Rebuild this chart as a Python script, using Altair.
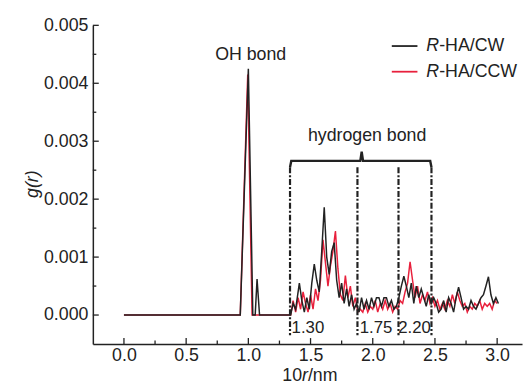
import altair as alt
import pandas as pd

# ---- data ----
cw_x = [0.00, 0.935, 1.00, 1.036, 1.055, 1.07, 1.09, 1.34, 1.36, 1.38, 1.41, 1.43, 1.45, 1.47, 1.49,
        1.51, 1.53, 1.55, 1.57, 1.59, 1.61, 1.63, 1.65, 1.67, 1.69, 1.71, 1.73, 1.75, 1.77, 1.79,
        1.81, 1.83, 1.85, 1.87, 1.89, 1.91, 1.93, 1.95, 1.97, 1.99, 2.01, 2.03, 2.05, 2.07, 2.09,
        2.11, 2.13, 2.15, 2.17, 2.19, 2.21, 2.23, 2.25, 2.27, 2.29, 2.31, 2.33, 2.35, 2.37, 2.39,
        2.41, 2.43, 2.45, 2.47, 2.49, 2.51, 2.53, 2.55, 2.57, 2.59, 2.61, 2.63, 2.65, 2.67, 2.69,
        2.71, 2.73, 2.75, 2.77, 2.79, 2.81, 2.83, 2.85, 2.87, 2.89, 2.91, 2.93, 2.95, 2.97, 2.99, 3.01]
cw_y = [0, 0, 4.25, 0, 0, 0.62, 0, 0, 0.2, 0.1, 0.55, 0.25, 0.05, 0.3, 0.1,
        0.55, 0.88, 0.6, 0.4, 1.1, 1.86, 1.0, 0.7, 1.1, 1.25, 0.6, 0.3, 0.55, 0.2, 0.45,
        0.15, 0.35, 0.1, 0.2, 0.05, 0.3, 0.1, 0.25, 0.1, 0.3, 0.15, 0.3, 0.3, 0.15, 0.3,
        0.3, 0.15, 0.25, 0.1, 0.15, 0.3, 0.5, 0.67, 0.5, 0.3, 0.55, 0.2, 0.5, 0.3, 0.45,
        0.3, 0.15, 0.35, 0.2, 0.3, 0.2, 0.05, 0.1, 0.25, 0.05, 0.3, 0.2, 0.05, 0.3, 0.48,
        0.3, 0.1, 0.15, 0.1, 0.25, 0.15, 0.1, 0.2, 0.3, 0.35, 0.5, 0.66, 0.35, 0.2, 0.3, 0.2]

ccw_x = [0.00, 0.935, 0.995, 1.03, 1.34, 1.36, 1.38, 1.40, 1.42, 1.44, 1.46, 1.48, 1.50, 1.52, 1.54,
         1.56, 1.58, 1.60, 1.62, 1.64, 1.66, 1.68, 1.70, 1.72, 1.74, 1.76, 1.78, 1.80, 1.82, 1.84,
         1.86, 1.88, 1.90, 1.92, 1.94, 1.96, 1.98, 2.00, 2.02, 2.04, 2.06, 2.08, 2.10, 2.12, 2.14,
         2.16, 2.18, 2.20, 2.22, 2.24, 2.26, 2.28, 2.30, 2.32, 2.34, 2.36, 2.38, 2.40, 2.42, 2.44,
         2.46, 2.48, 2.50, 2.52, 2.54, 2.56, 2.58, 2.60, 2.62, 2.64, 2.66, 2.68, 2.70, 2.72, 2.74,
         2.76, 2.78, 2.80, 2.82, 2.84, 2.86, 2.88, 2.90, 2.92, 2.94, 2.96, 2.98, 3.00]
ccw_y = [0, 0, 4.15, 0, 0, 0.25, 0.05, 0.3, 0.1, 0.4, 0.2, 0.05, 0.35, 0.1, 0.45,
         0.25, 0.6, 1.3, 0.9, 0.5, 0.85, 1.1, 1.45, 0.8, 0.35, 0.25, 0.68, 0.3, 0.5, 0.15,
         0.3, 0.05, 0.1, 0.05, 0.2, 0.05, 0.15, 0.1, 0.25, 0.05, 0.2, 0.1, 0.25, 0.1, 0.2,
         0.05, 0.15, 0.1, 0.25, 0.2, 0.4, 0.55, 0.92, 0.6, 0.3, 0.5, 0.2, 0.35, 0.25, 0.4,
         0.2, 0.3, 0.15, 0.25, 0.1, 0.2, 0.1, 0.25, 0.15, 0.35, 0.2, 0.4, 0.25, 0.15, 0.2,
         0.05, 0.15, 0.1, 0.2, 0.15, 0.25, 0.1, 0.2, 0.15, 0.2, 0.1, 0.25, 0.2]

x_major = [0.0, 0.5, 1.0, 1.5, 2.0, 2.5, 3.0]
x_minor = [0.25, 0.75, 1.25, 1.75, 2.25, 2.75]
y_major = [0.0, 0.001, 0.002, 0.003, 0.004, 0.005]
y_minor = [0.0005, 0.0015, 0.0025, 0.0035, 0.0045]

hb_lines = [1.335, 1.877, 2.207, 2.472]
hb_labels = ["1.30", "1.75", "2.20"]
brace_x = [1.335, 1.345, 1.900, 1.911, 1.922, 2.462, 2.472]
brace_y = [2.55, 2.66, 2.66, 2.82, 2.66, 2.66, 2.55]

X_DOMAIN = [-0.25, 3.2]
Y_DOMAIN = [-0.0005, 0.005]
W, H = 435, 323
FONT = "Liberation Sans"
BLACK = "#222222"
RED = "#e8203c"

cw = pd.DataFrame({"x": cw_x, "y": [v / 1000 for v in cw_y]})
ccw = pd.DataFrame({"x": ccw_x, "y": [v / 1000 for v in ccw_y]})

xs = alt.Scale(domain=X_DOMAIN, nice=False, zero=False)
ys = alt.Scale(domain=Y_DOMAIN, nice=False, zero=False)

x_axis = alt.Axis(values=x_major, format=".1f", ticks=False, grid=False, labelFontSize=18,
                  labelFont=FONT, labelColor=BLACK, labelPadding=3, domainColor=BLACK,
                  domainWidth=1.5, title=None, labelFlush=False)
y_axis = alt.Axis(values=y_major, format=".3f", ticks=False, grid=False, labelFontSize=18,
                  labelFont=FONT, labelColor=BLACK, labelPadding=5, domainColor=BLACK,
                  domainWidth=1.5, title=None, labelFlush=False)

red_line = alt.Chart(ccw).mark_line(color=RED, strokeWidth=1.5).encode(
    x=alt.X("x:Q", scale=xs, axis=x_axis),
    y=alt.Y("y:Q", scale=ys, axis=y_axis),
    order="x:Q",
)
black_line = alt.Chart(cw).mark_line(color=BLACK, strokeWidth=1.5).encode(
    x=alt.X("x:Q", scale=xs), y=alt.Y("y:Q", scale=ys), order="x:Q"
)

# inward ticks
xt_major = alt.Chart(pd.DataFrame({"x": x_major})).mark_rule(color=BLACK, strokeWidth=1.3).encode(
    x=alt.X("x:Q", scale=xs), y=alt.value(H), y2=alt.value(H - 6))
xt_minor = alt.Chart(pd.DataFrame({"x": x_minor})).mark_rule(color=BLACK, strokeWidth=1.3).encode(
    x=alt.X("x:Q", scale=xs), y=alt.value(H), y2=alt.value(H - 3.5))
yt_major = alt.Chart(pd.DataFrame({"y": y_major})).mark_rule(color=BLACK, strokeWidth=1.3).encode(
    y=alt.Y("y:Q", scale=ys), x=alt.value(0), x2=alt.value(6))
yt_minor = alt.Chart(pd.DataFrame({"y": y_minor})).mark_rule(color=BLACK, strokeWidth=1.3).encode(
    y=alt.Y("y:Q", scale=ys), x=alt.value(0), x2=alt.value(3.5))

# hydrogen-bond dash-dot lines and brace
hb = alt.Chart(pd.DataFrame({"x": hb_lines})).mark_rule(
    color=BLACK, strokeWidth=2.2, strokeDash=[6, 2, 2, 2]).encode(
    x=alt.X("x:Q", scale=xs), y=alt.datum(0.00255), y2=alt.datum(-0.00035))
brace = alt.Chart(pd.DataFrame({"x": brace_x, "y": [v / 1000 for v in brace_y],
                                "o": list(range(len(brace_x)))})).mark_line(
    color=BLACK, strokeWidth=2.4).encode(
    x=alt.X("x:Q", scale=xs), y=alt.Y("y:Q", scale=ys), order="o:Q")


def txt(s, x, y, size=18, align="center", italic=False, angle=0):
    return alt.Chart(pd.DataFrame({"t": [s]})).mark_text(
        font=FONT, fontSize=size, align=align, baseline="middle", color=BLACK,
        fontStyle="italic" if italic else "normal", angle=angle).encode(
        text="t:N", x=alt.value(x), y=alt.value(y))


texts = [
    txt("OH bond", 160, 30),
    txt("hydrogen bond", 278, 112),
    txt(hb_labels[0], 218, 307, size=17),
    txt(hb_labels[1], 287, 307, size=17),
    txt(hb_labels[2], 326, 307, size=17),
    # x title 10r/nm
    txt("10", 192, 355, align="left"),
    txt("r", 212, 355, align="left", italic=True),
    txt("/nm", 218, 355, align="left"),
    # y title
    txt("g(r)", -61, 161, italic=True, angle=270),
    # legend
    txt("R", 338, 21, align="left", italic=True),
    txt("-HA/CW", 351, 21, align="left"),
    txt("R", 338, 47, align="left", italic=True),
    txt("-HA/CCW", 351, 47, align="left"),
]

leg_black = alt.Chart(pd.DataFrame({"a": [0]})).mark_rule(color=BLACK, strokeWidth=1.8).encode(
    x=alt.value(303), x2=alt.value(329), y=alt.value(21))
leg_red = alt.Chart(pd.DataFrame({"a": [0]})).mark_rule(color=RED, strokeWidth=1.8).encode(
    x=alt.value(303), x2=alt.value(329), y=alt.value(47))

chart = alt.layer(
    red_line, black_line, xt_major, xt_minor, yt_major, yt_minor, hb, brace,
    leg_black, leg_red, *texts
).properties(
    width=W, height=H,
    autosize=alt.AutoSizeParams(type="none"),
    padding={"left": 86, "top": 15, "right": 2, "bottom": 40},
    background="white",
).configure_view(stroke=None)

chart.save("out.html", embed_options={"renderer": "svg", "actions": False})
